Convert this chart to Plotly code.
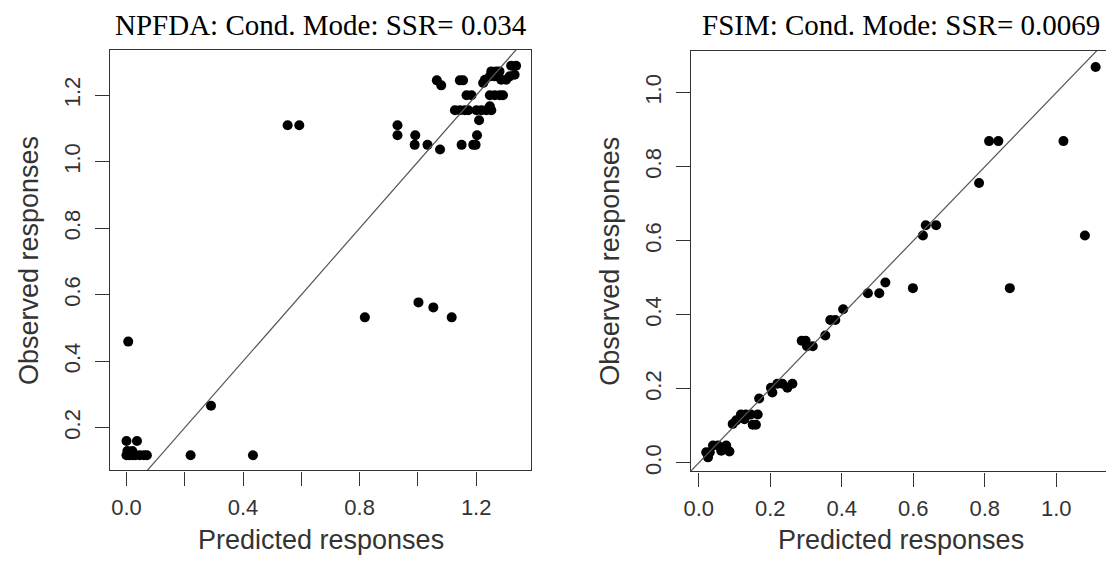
import plotly.graph_objects as go

# ---- Data: NPFDA (left panel) ----
npfda_pred = [0.0, 0.01, 0.02, 0.03, 0.045, 0.06, 0.07,
              0.003, 0.02, 0.0, 0.036,
              0.006, 0.29, 0.22, 0.434,
              0.553, 0.593, 0.818, 1.002, 1.053, 1.116,
              0.93, 0.93, 0.991, 0.989, 1.033, 1.076,
              1.065, 1.08, 1.144, 1.155,
              1.15, 1.19, 1.198, 1.203, 1.21,
              1.127, 1.144, 1.161, 1.173, 1.201, 1.218, 1.235, 1.252,
              1.167, 1.184, 1.247, 1.264, 1.281, 1.292,
              1.247,
              1.224, 1.23, 1.252, 1.269, 1.28, 1.247, 1.264, 1.286, 1.303, 1.315, 1.332, 1.32, 1.337]
npfda_obs = [0.117, 0.117, 0.117, 0.117, 0.117, 0.117, 0.117,
             0.13, 0.13, 0.16, 0.16,
             0.459, 0.266, 0.117, 0.117,
             1.11, 1.11, 0.532, 0.577, 0.562, 0.532,
             1.11, 1.08, 1.08, 1.051, 1.051, 1.037,
             1.245, 1.23, 1.245, 1.245,
             1.051, 1.051, 1.051, 1.08, 1.125,
             1.155, 1.155, 1.155, 1.155, 1.155, 1.155, 1.155, 1.155,
             1.2, 1.2, 1.2, 1.2, 1.2, 1.2,
             1.167,
             1.237, 1.247, 1.272, 1.272, 1.272, 1.257, 1.257, 1.247, 1.247, 1.257, 1.262, 1.289, 1.289]

# ---- Data: FSIM (right panel) ----
fsim_pred = [1.110, 0.812, 0.838, 1.020, 0.784, 0.627, 0.635, 0.664, 1.080,
             0.599, 0.870, 0.473, 0.505, 0.522, 0.404, 0.368, 0.382, 0.354,
             0.288, 0.299, 0.303, 0.319, 0.169, 0.202, 0.206,
             0.220, 0.234, 0.248, 0.262, 0.095, 0.105,
             0.118, 0.132, 0.146, 0.165, 0.128, 0.151, 0.160,
             0.021, 0.026, 0.031, 0.040, 0.054, 0.063, 0.077, 0.086]
fsim_obs = [1.069, 0.869, 0.869, 0.869, 0.756, 0.614, 0.642, 0.642, 0.614,
            0.472, 0.472, 0.458, 0.458, 0.487, 0.415, 0.386, 0.386, 0.344,
            0.330, 0.330, 0.315, 0.315, 0.174, 0.203, 0.190,
            0.214, 0.214, 0.203, 0.214, 0.105, 0.115,
            0.131, 0.131, 0.131, 0.131, 0.118, 0.103, 0.103,
            0.029, 0.015, 0.029, 0.047, 0.047, 0.033, 0.047, 0.031]

titles = ["NPFDA: Cond. Mode: SSR= 0.034", "FSIM: Cond. Mode: SSR= 0.0069"]
x_title = "Predicted responses"
y_title = "Observed responses"

left_xticks = [0.0, 0.2, 0.4, 0.6, 0.8, 1.0, 1.2]
left_xticktext = ["0.0", "", "0.4", "", "0.8", "", "1.2"]
left_yticks = [0.2, 0.4, 0.6, 0.8, 1.0, 1.2]
right_ticks = [0.0, 0.2, 0.4, 0.6, 0.8, 1.0]

# page body has an 8px margin: figure is drawn inside it
OFF = 8
W, H = 1114 - OFF, 564 - 2 * OFF
# plot boxes in page pixels (left, top, right, bottom)
boxL = (103, 50, 527, 473)
boxR = (688, 51, 1111, 474)

def px(x):
    return (x - OFF) / W

def py(y):
    return 1 - (y - OFF) / H

def dom_x(b):
    return [px(b[0]), px(b[2])]

def dom_y(b):
    return [py(b[3]), py(b[1])]

fig = go.Figure()
mk = dict(color="black", size=10, line=dict(width=0))

xrL = [-0.0555, 1.389]
yrL = [0.0714, 1.337]
xrR = [-0.0213, 1.153]
yrR = [-0.023, 1.113]

fig.add_trace(go.Scatter(x=npfda_pred, y=npfda_obs, mode="markers", marker=mk,
                         xaxis="x", yaxis="y", showlegend=False))
fig.add_trace(go.Scatter(x=[-0.1, 1.5], y=[-0.1, 1.5], mode="lines",
                         line=dict(color="#555555", width=1.2),
                         xaxis="x", yaxis="y", showlegend=False))
fig.add_trace(go.Scatter(x=fsim_pred, y=fsim_obs, mode="markers", marker=mk,
                         xaxis="x2", yaxis="y2", showlegend=False))
fig.add_trace(go.Scatter(x=[-0.1, 1.3], y=[-0.1, 1.3], mode="lines",
                         line=dict(color="#555555", width=1.2),
                         xaxis="x2", yaxis="y2", showlegend=False))

tickfont = dict(family="Liberation Sans, Arial, sans-serif", size=22, color="#333333")
axcommon = dict(showline=True, mirror=True, linecolor="#333333", linewidth=1.3,
                ticks="outside", ticklen=14, tickwidth=1.3, tickcolor="#333333",
                showgrid=False, zeroline=False, tickfont=tickfont)

fig.update_layout(
    width=W, height=H,
    margin=dict(l=0, r=0, t=0, b=0),
    plot_bgcolor="white", paper_bgcolor="white",
    xaxis=dict(domain=dom_x(boxL), range=xrL, anchor="y", ticklabelstandoff=3,
               tickvals=left_xticks, ticktext=left_xticktext, **axcommon),
    yaxis=dict(domain=dom_y(boxL), range=yrL, anchor="x", ticklabelstandoff=6,
               tickvals=left_yticks, ticktext=[f"{v:.1f}" for v in left_yticks],
               tickangle=-90, **axcommon),
    xaxis2=dict(domain=dom_x(boxR), range=xrR, anchor="y2", ticklabelstandoff=3,
                tickvals=right_ticks, ticktext=[f"{v:.1f}" for v in right_ticks], **axcommon),
    yaxis2=dict(domain=dom_y(boxR), range=yrR, anchor="x2", ticklabelstandoff=6,
                tickvals=right_ticks, ticktext=[f"{v:.1f}" for v in right_ticks],
                tickangle=-90, **axcommon),
)

ann = []
serif = dict(family="Liberation Serif, Times New Roman, serif", size=29, color="black")
sans = dict(family="Liberation Sans, Arial, sans-serif", size=27, color="#333333")
for b, t in ((boxL, titles[0]), (boxR, titles[1])):
    cx = (b[0] + b[2]) / 2
    cy = (b[1] + b[3]) / 2
    ann.append(dict(text=t, x=px(cx), y=1.0, xref="paper", yref="paper", borderpad=0,
                    xanchor="center", yanchor="top", showarrow=False, font=serif))
    ann.append(dict(text=x_title, x=px(cx), y=py(543), xref="paper", yref="paper",
                    xanchor="center", yanchor="middle", showarrow=False, font=sans))
    ann.append(dict(text=y_title, x=px(b[0] - 82), y=py(cy), xref="paper", yref="paper",
                    xanchor="center", yanchor="middle", showarrow=False, font=sans,
                    textangle=-90))
fig.update_layout(annotations=ann)

fig.write_html("out.html")
